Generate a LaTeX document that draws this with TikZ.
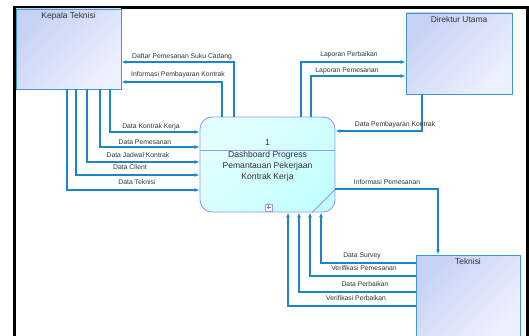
\documentclass[tikz,border=0pt]{standalone}
\usepackage{fontspec}
\setmainfont{Liberation Sans}
\usetikzlibrary{arrows.meta}
\definecolor{conn}{RGB}{28,134,200}
\definecolor{entb}{RGB}{66,150,212}
\definecolor{entA}{RGB}{198,210,244}
\definecolor{entB}{RGB}{238,240,253}
\definecolor{procb}{RGB}{150,150,255}
\definecolor{procA}{RGB}{228,255,255}
\definecolor{procB}{RGB}{196,255,255}
\definecolor{txt}{RGB}{50,50,50}
\tikzset{
  entity/.style={draw=entb, line width=0.9pt, top color=entA, bottom color=entB, shading angle=45, inner sep=0pt},
  proc/.style={draw=procb, line width=0.9pt, rounded corners=12pt, top color=procA, bottom color=procB, shading angle=45, inner sep=0pt},
  flow/.style={draw=conn, line width=1.1pt, -{Latex[length=5pt,width=4pt]}},
  lbl/.style={font=\fontsize{6.8}{7}\selectfont, text=txt, inner sep=0pt},
  etitle/.style={font=\fontsize{8.4}{9}\selectfont, text=txt, inner sep=0pt, anchor=north},
  ptext/.style={font=\fontsize{8.6}{11}\selectfont, text=txt, inner sep=0pt, align=center}
}
\begin{document}
\begin{tikzpicture}[x=1pt,y=-1pt]
\useasboundingbox (0,0) rectangle (529,336);
% frame
\draw[line width=3pt] (14.5,8) -- (527,8) -- (527,345);
\draw[line width=3pt] (14.5,6.5) -- (14.5,345);
% entities
\node[entity, minimum width=105pt, minimum height=80pt] (kt) at (68.5,49) {};
\node[etitle] (ktt) at ([yshift=-3.5pt]kt.north) {Kepala Teknisi};
\node[entity, minimum width=106pt, minimum height=81pt] (du) at (459,53.5) {};
\node[etitle] (dut) at ([yshift=-4pt]du.north) {Direktur Utama};
\node[entity, minimum width=104pt, minimum height=82pt] (tk) at (468,296) {};
\node[etitle] (tkt) at ([yshift=-3.5pt]tk.north) {Teknisi};
% process
\node[proc, minimum width=135pt, minimum height=95pt] (p) at (267.5,164.5) {};
\draw[procb, line width=0.9pt] (p.west |- 0,150) -- (p.east |- 0,150);
\node[ptext] (pn) at (267.5,143) {1};
\node[ptext, anchor=north] (pt) at (267.5,151) {Dashboard Progress\\Pemantauan Pekerjaan\\Kontrak Kerja};
\draw[procb, line width=0.9pt] (p.east |- 0,189) -- (p.south -| 312,0);
\node[draw=procb, line width=0.7pt, fill=white, minimum size=7pt, inner sep=0pt] (plus) at (268.5,207.5) {};
\draw[procb!80!black, line width=0.6pt] ([xshift=-2pt]plus.center) -- ([xshift=2pt]plus.center)
  ([yshift=-2pt]plus.center) -- ([yshift=2pt]plus.center);
% Kepala Teknisi flows
\draw[flow] (p.north -| 234,0) |- (kt.east |- 0,62);
\draw[flow] (p.north -| 222,0) |- (kt.east |- 0,82);
\draw[flow] (kt.south -| 110,0) |- (p.west |- 0,132);
\draw[flow] (kt.south -| 100,0) |- (p.west |- 0,147);
\draw[flow] (kt.south -| 87,0) |- (p.west |- 0,162);
\draw[flow] (kt.south -| 76,0) |- (p.west |- 0,175);
\draw[flow] (kt.south -| 67,0) |- (p.west |- 0,190);
% Direktur flows
\draw[flow] (p.north -| 301,0) |- (du.west |- 0,62);
\draw[flow] (p.north -| 311,0) |- (du.west |- 0,76);
\draw[flow] (du.south -| 422,0) |- (p.east |- 0,131);
% Teknisi flows
\draw[flow] (p.east |- 0,189) -| (tk.north -| 438,0);
\draw[flow] (tk.west |- 0,263) -| (p.south -| 321,0);
\draw[flow] (tk.west |- 0,276) -| (p.south -| 310,0);
\draw[flow] (tk.west |- 0,292) -| (p.south -| 299,0);
\draw[flow] (tk.west |- 0,306) -| (p.south -| 288,0);
% labels
\node[lbl] (l1) at (182,57) {Daftar Pemesanan Suku Cadang};
\node[lbl] (l2) at (178,74.5) {Informasi Pembayaran Kontrak};
\node[lbl] (l3) at (151,127) {Data Kontrak Kerja};
\node[lbl] (l4) at (145,142.5) {Data Pemesanan};
\node[lbl] (l5) at (138,155) {Data Jadwal Kontrak};
\node[lbl] (l6) at (130,167.5) {Data Client};
\node[lbl] (l7) at (137,182) {Data Teknisi};
\node[lbl] (l8) at (349,55) {Laporan Perbaikan};
\node[lbl] (l9) at (347,70.5) {Laporan Pemesanan};
\node[lbl] (l10) at (395,125) {Data Pembayaran Kontrak};
\node[lbl] (l11) at (387,182.5) {Informasi Pemesanan};
\node[lbl] (l12) at (362,256) {Data Survey};
\node[lbl] (l13) at (364,268.5) {Verifikasi Pemesanan};
\node[lbl] (l14) at (365,284.5) {Data Perbaikan};
\node[lbl] (l15) at (356,298) {Verifikasi Perbaikan};
\end{tikzpicture}
\end{document}
